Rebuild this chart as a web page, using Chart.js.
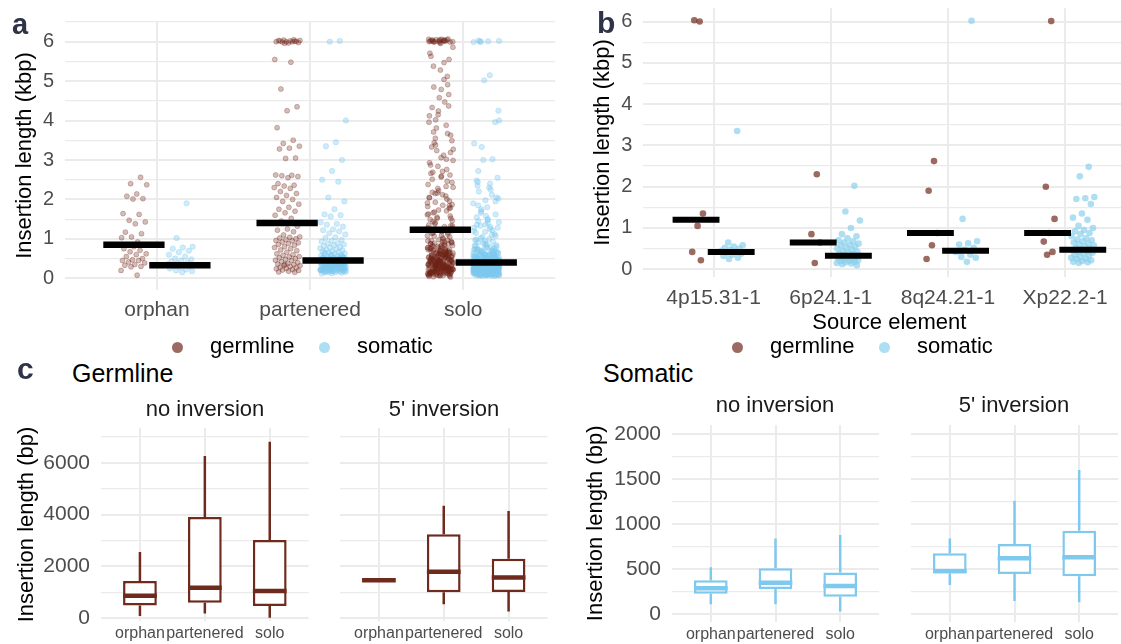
<!DOCTYPE html>
<html><head><meta charset="utf-8">
<script src="https://cdn.jsdelivr.net/npm/chart.js@4.4.1/dist/chart.umd.min.js"></script>
<style>
html,body{margin:0;padding:0;width:1121px;height:644px;overflow:hidden;background:#fff;font-family:"Liberation Sans",Arial,sans-serif;}
#stage{position:absolute;left:0;top:0;width:1121px;height:644px;overflow:hidden;}
.t{position:absolute;white-space:nowrap;line-height:1;z-index:5;}
.lt{font-weight:bold;color:#2f3347;}
.c{transform:translateX(-50%);}
.dot{position:absolute;width:11px;height:11px;border-radius:50%;z-index:5;}
</style></head><body>
<div id="stage">
  <div class="t lt" style="left:12px;top:9.5px;font-size:29px;">a</div>
  <div class="t lt" style="left:597px;top:7.6px;font-size:30px;">b</div>
  <div class="t lt" style="left:17px;top:353.6px;font-size:30px;">c</div>
  <div class="t" style="left:72px;top:361px;font-size:25px;color:#000;">Germline</div>
  <div class="t" style="left:603px;top:361px;font-size:25px;color:#000;">Somatic</div>
  <div class="t c" style="left:205px;top:398.4px;font-size:22px;color:#1a1a1a;">no inversion</div>
  <div class="t c" style="left:444px;top:398.4px;font-size:22px;color:#1a1a1a;">5' inversion</div>
  <div class="t c" style="left:775px;top:394.4px;font-size:22px;color:#1a1a1a;">no inversion</div>
  <div class="t c" style="left:1014px;top:394.4px;font-size:22px;color:#1a1a1a;">5' inversion</div>
  <div class="dot" style="left:172px;top:342px;background:rgba(110,35,22,0.68);"></div>
  <div class="t" style="left:210px;top:335px;font-size:22px;color:#000;">germline</div>
  <div class="dot" style="left:319px;top:342px;background:rgba(135,206,235,0.68);"></div>
  <div class="t" style="left:357px;top:335px;font-size:22px;color:#000;">somatic</div>
  <div class="dot" style="left:732px;top:342px;background:rgba(110,35,22,0.68);"></div>
  <div class="t" style="left:770px;top:335px;font-size:22px;color:#000;">germline</div>
  <div class="dot" style="left:879px;top:342px;background:rgba(135,206,235,0.68);"></div>
  <div class="t" style="left:917px;top:335px;font-size:22px;color:#000;">somatic</div>
</div>
<script>
// ---------- DATA ----------
const catsA = ['orphan', 'partenered', 'solo'];
const orphanGerm = [2.56,2.40,2.37,2.14,2.08,2.02,2.01,1.64,1.62,1.47,1.43,1.38,1.17,1.13,1.05,1.03,0.92,0.85,0.84,0.80,0.75,0.71,0.67,0.62,0.60,0.55,0.50,0.47,0.45,0.45,0.41,0.39,0.35,0.33,0.30,0.29,0.20,0.08];
const orphanSom = [1.90,1.02,0.80,0.78,0.75,0.70,0.66,0.60,0.55,0.50,0.48,0.45,0.42,0.40,0.38,0.36,0.33,0.31,0.30,0.28,0.25,0.22,0.20,0.18,0.15];
const partGerm = [6.05,6.04,6.03,6.02,6.02,6.01,6.00,6.00,6.00,5.99,5.98,5.97,6.03,6.01,5.96,5.55,5.48,4.80,4.35,4.25,3.82,3.50,3.42,3.35,3.30,3.28,3.05,3.04,2.62,2.61,2.60,2.58,2.55,2.40,2.36,2.34,2.30,2.28,2.20,2.15,2.10,2.05,2.00,1.95,1.88,1.80,1.75,1.70,1.66,1.60,1.52,1.45,1.32,1.25,1.22,1.18,1.10,1.05,1.04,1.02,1.00,0.98,0.96,0.95,0.92,0.90,0.88,0.86,0.84,0.80,0.78,0.75,0.72,0.70,0.66,0.62,0.60,0.58,0.55,0.54,0.52,0.50,0.48,0.46,0.45,0.42,0.40,0.38,0.36,0.35,0.33,0.32,0.30,0.28,0.27,0.25,0.24,0.22,0.21,0.20,0.18,0.16,0.15,0.35];
const partSom = [6.02,6.00,4.00,3.45,3.35,3.00,2.72,2.50,2.45,2.05,1.95,1.75,1.62,1.60,1.57,1.42,1.38,1.36,1.31,1.24,1.22,1.19,1.14,1.11,1.04,1.02,0.97,0.95,0.93,0.89,0.88,0.86,0.84,0.82,0.79,0.78,0.76,0.74,0.72,0.71,0.69,0.68,0.66,0.65,0.63,0.62,0.61,0.59,0.58,0.57,0.56,0.55,0.54,0.53,0.52,0.51,0.50,0.49,0.49,0.48,0.47,0.46,0.46,0.45,0.44,0.44,0.43,0.42,0.42,0.41,0.40,0.40,0.39,0.38,0.38,0.37,0.37,0.36,0.35,0.35,0.34,0.34,0.33,0.33,0.32,0.31,0.31,0.30,0.30,0.29,0.29,0.28,0.28,0.27,0.26,0.26,0.25,0.25,0.24,0.24,0.23,0.22,0.22,0.21,0.21,0.20,0.20,0.19,0.18,0.18,0.17,0.17,0.16,0.15,0.15,0.14,0.13,0.12,0.22,0.27,0.33,0.39,0.41,0.36,
  0.32,0.21,0.45,0.27,0.38,0.18,0.52,0.30,0.24,0.41,0.35,0.16,0.28,0.60,0.22,0.36,0.43,0.19,0.31,0.25,0.50,0.34,0.20,0.39,0.29,0.56,0.23,0.33,0.47,0.17,0.26,0.37,0.65,0.30,0.42,0.21,0.35,0.28,0.54,0.24];
const soloGerm = [6.04,0.42,2.31,0.18,6.01,1.77,0.63,4.12,0.27,3.38,0.91,6.06,0.55,1.12,2.84,0.09,5.47,0.36,1.58,0.71,6.02,3.02,0.24,0.83,2.12,0.47,4.66,0.15,1.35,0.58,6.00,0.31,2.57,0.96,5.12,0.21,1.91,0.66,3.71,0.38,6.05,0.12,1.24,0.52,2.43,0.79,4.33,0.27,0.44,1.63,6.03,0.19,3.19,0.61,0.88,2.76,0.33,5.86,0.07,1.44,0.49,6.01,2.05,0.74,3.55,0.23,1.09,0.57,4.91,0.35,1.82,0.14,5.99,2.62,0.68,0.41,3.88,0.29,1.27,0.93,6.04,0.16,2.22,0.53,4.47,0.39,1.52,0.81,5.63,0.26,0.62,3.27,6.02,0.11,1.96,0.46,2.93,0.72,4.02,0.34,1.18,0.59,6.07,0.21,2.38,0.86,3.44,0.13,5.28,0.48,1.71,0.64,6.00,0.37,2.69,0.25,0.98,3.96,0.17,1.41,0.54,4.79,6.03,0.29,2.16,0.77,3.12,0.43,1.05,0.08,5.71,0.56,6.05,1.87,0.32,2.51,0.69,4.24,0.22,1.31,0.89,3.63,5.96,0.15,2.01,0.51,2.99,0.44,1.66,0.73,4.58,0.28,6.01,0.36,1.21,0.61,3.33,0.19,2.28,0.95,5.04,0.47,5.99,0.11,1.49,0.67,3.81,0.24,2.71,0.84,4.37,0.39,6.06,0.52,1.38,0.14,3.06,0.76,2.46,0.31,1.61,0.58,5.38,0.06,6.02,0.42,2.09,0.65,3.49,0.27,1.14,0.87,4.15,0.34,6.04,0.18,1.79,0.49,2.87,0.62,3.24,0.23,1.02,0.71,5.55,0.38,6.00,0.12,1.93,0.55,2.59,0.45,3.67,0.81,1.28,0.26,4.85,0.66,5.97,0.33,2.33,0.09,1.46,0.59,2.18,0.48,1.73,0.35,0.92,0.17,1.33,0.74,2.66,0.53,1.55,0.41,0.99,0.22,1.84,0.63,2.04,0.29,1.25,0.44,0.85,0.13,1.16,0.57,0.78,0.37,1.07,0.25,0.69,0.46,
  0.34,0.12,0.58,0.27,0.81,0.19,0.45,0.05,0.66,0.31,0.94,0.22,0.51,0.14,0.38,1.08,0.26,0.72,0.09,0.43,0.17,0.61,0.33,1.21,0.24,0.49,0.11,0.77,0.36,0.20,0.55,0.03,0.41,0.87,0.28,0.15,0.64,0.35,1.15,0.21,0.47,0.08,0.70,0.30,0.18,0.53,0.39,0.97,0.25,0.13,0.60,0.32,0.44,0.06,0.75,0.23,0.50,1.33,0.29,0.16,0.57,0.37,0.10,0.84,0.27,0.46,0.19,0.68,0.33,1.52,0.22,0.40,0.04,0.62,0.30,0.14,0.52,0.35,0.90,0.26,0.17,0.48,0.07,0.73,0.31,1.68,0.20,0.42,0.12,0.59,0.28,0.38,1.85,0.24,0.65,0.15,0.54,0.32,2.15,0.45];
const soloSom = [0.21,0.35,6.02,0.12,0.48,0.27,1.36,0.09,0.31,0.66,0.18,0.39,2.44,0.24,0.15,0.52,0.33,0.07,0.28,0.81,0.19,0.37,1.05,0.22,0.11,0.44,0.26,0.14,0.58,0.34,6.00,0.17,0.29,0.73,0.20,0.36,0.13,0.47,0.25,1.62,0.08,0.32,0.55,0.19,0.38,0.16,0.91,0.23,0.30,0.12,0.42,0.27,2.05,0.10,0.35,0.63,0.18,0.24,0.46,0.15,0.33,1.18,0.21,0.06,0.39,0.28,0.77,0.14,0.31,0.53,0.20,5.15,0.26,0.11,0.41,0.35,0.17,0.68,0.23,0.29,1.45,0.13,0.37,0.50,0.22,0.09,0.32,0.86,0.25,0.18,0.43,0.30,2.30,0.16,0.38,0.60,0.12,0.27,0.34,1.28,0.21,0.07,0.45,0.19,0.72,0.33,0.24,0.14,0.40,0.28,3.02,0.17,0.36,0.57,0.10,0.26,0.95,0.22,0.31,0.15,0.49,1.80,0.20,0.35,0.12,0.64,0.29,0.23,0.08,0.42,0.18,1.10,0.37,0.27,6.01,0.13,0.54,0.32,0.21,0.79,0.16,0.39,0.25,1.55,0.11,0.30,0.47,0.19,0.34,0.06,0.88,0.24,0.41,0.14,2.55,0.28,0.20,0.61,0.36,0.17,1.25,0.09,0.33,0.51,0.22,0.26,0.44,4.25,0.15,0.38,0.70,0.12,0.30,0.20,1.02,0.35,0.27,0.18,0.56,0.23,1.90,0.10,0.40,0.32,0.14,0.83,0.25,0.37,0.19,1.40,0.29,0.66,0.21,3.42,0.13,0.34,0.48,0.16,0.98,0.31,0.26,0.08,0.43,2.20,0.22,0.59,0.18,0.36,1.70,0.11,0.28,0.75,0.24,0.40,5.99,0.15,0.33,0.52,0.20,1.15,0.30,0.17,0.45,0.27,2.72,0.12,0.62,0.38,0.23,1.33,0.09,0.35,0.19,0.93,0.29,4.00,0.14,0.42,0.25,1.98,0.21,0.69,0.32,0.16,1.50,0.37,0.13,0.55,0.26,2.40,0.18,0.84,0.31,0.22,1.22,0.10,0.46,0.28,6.03,0.15,0.39,0.74,0.20,1.66,0.34,0.24,0.50,0.12,3.00,0.27,0.58,0.17,1.08,0.36,0.21,2.12,0.30,0.65,0.19,1.85,0.44,5.02,0.25,1.30,0.33,0.80,0.14,2.48,0.41,0.23,1.42,0.53,0.16,3.96,0.29,0.97,0.20,1.75,0.38,0.11,2.35,0.60,0.26,1.20,0.32,6.00,0.18,1.58,0.43,0.71,0.22,2.02,0.35,0.13,1.12,0.47,0.28,2.25,0.24,0.67,0.37,1.36,0.15,0.89,0.31,1.00,0.20,1.95,0.40,0.54,0.27,3.33,0.17,1.48,0.34,0.76,0.23,1.28,0.12,0.62,0.30,
  0.31,0.18,0.44,0.26,0.12,0.37,0.21,0.55,0.29,0.15,0.41,0.23,0.33,0.09,0.48,0.19,0.27,0.36,0.13,0.62,0.24,0.31,0.17,0.45,0.22,0.38,0.11,0.29,0.52,0.20,0.34,0.16,0.42,0.25,0.07,0.35,0.28,0.58,0.14,0.39,0.23,0.31,0.18,0.47,0.26,0.12,0.36,0.21,0.68,0.30,0.16,0.43,0.24,0.10,0.33,0.27,0.51,0.19,0.37,0.22,0.14,0.40,0.29,0.75,0.17,0.32,0.25,0.46,0.11,0.35,0.20,0.28,0.57,0.15,0.38,0.23,0.08,0.42,0.30,0.18,0.64,0.26,0.34,0.13,0.49,0.21,0.37,0.27,0.16,0.44,0.32,0.09,0.24,0.53,0.19,0.36,0.28,0.12,0.41,0.22,0.70,0.31,0.15,0.39,0.25,0.47,0.18,0.33,0.10,0.29,0.60,0.21,0.36,0.14,0.43,0.26,0.17,0.35,0.23,0.82,0.30,0.12,0.40,0.27,0.54,0.19,0.34,0.08,0.45,0.24,0.16,0.38,0.29,0.66,0.20,0.32,0.13,0.48,0.26,0.11,0.37,0.22,0.59,0.30,0.17,0.42,0.25,0.06,0.35,0.28,0.72,0.15,0.39,0.21,0.50,0.33,0.18,0.27,0.44,0.13,0.36,0.23,0.61,0.31,0.16,0.40,0.26,0.09,0.34,0.20,0.46,0.29,0.14,0.38];
const medGermA = [0.85, 1.40, 1.23];
const medSomA = [0.33, 0.45, 0.40];
const yMajorA = [0, 1, 2, 3, 4, 5, 6];
const yMinorA = [0.5, 1.5, 2.5, 3.5, 4.5, 5.5, 6.5];

const elemsB = ['4p15.31-1', '6p24.1-1', '8q24.21-1', 'Xp22.2-1'];
const germB_4p = [6.00, 6.03, 1.35, 1.05, 0.42, 0.22];
const germB_6p = [2.30, 0.85, 0.65, 0.15];
const germB_8q = [2.62, 1.90, 0.88, 0.58, 0.25];
const germB_Xp = [6.01, 2.00, 1.22, 0.88, 0.67, 0.42, 0.35];
const somB_4p = [3.35, 0.65, 0.58, 0.55, 0.52, 0.50, 0.48, 0.45, 0.42, 0.40, 0.38, 0.35, 0.32, 0.28, 0.25];
const somB_6p = [2.02, 1.40, 1.18, 1.00, 0.85, 0.80, 0.75, 0.70, 0.68, 0.65, 0.62, 0.60, 0.58, 0.55, 0.52, 0.50, 0.48, 0.45, 0.42, 0.40, 0.38, 0.36, 0.35, 0.33, 0.32, 0.30, 0.30, 0.28, 0.27, 0.25, 0.24, 0.22, 0.20, 0.20, 0.18, 0.17, 0.15, 0.14, 0.12, 0.10];
const somB_8q = [6.02, 1.22, 0.68, 0.63, 0.60, 0.52, 0.48, 0.42, 0.35, 0.30, 0.28, 0.18];
const somB_Xp = [2.48, 2.25, 1.75, 1.72, 1.70, 1.58, 1.35, 1.25, 1.20, 1.05, 1.00, 0.95, 0.92, 0.88, 0.85, 0.80, 0.75, 0.72, 0.70, 0.68, 0.65, 0.62, 0.60, 0.58, 0.55, 0.52, 0.50, 0.48, 0.46, 0.44, 0.42, 0.40, 0.38, 0.35, 0.33, 0.30, 0.28, 0.26, 0.25, 0.22, 0.20, 0.18, 0.17, 0.15];
const medGermB = [1.20, 0.65, 0.88, 0.88];
const medSomB = [0.42, 0.33, 0.45, 0.47];
const yMajorB = [0, 1, 2, 3, 4, 5, 6];
const yMinorB = [0.5, 1.5, 2.5, 3.5, 4.5, 5.5];

const catsC = ['orphan', 'partenered', 'solo'];
// [lower whisker, Q1, median, Q3, upper whisker] in bp
const germNoInv = [[90, 490, 870, 1440, 2560], [190, 600, 1180, 3910, 6260], [25, 470, 1050, 3020, 6810]];
const germInv5 = [[1450, 1452, 1465, 1478, 1480], [540, 1000, 1800, 3240, 4340], [260, 1010, 1570, 2300, 4140]];
const somNoInv = [[111, 229, 288, 377, 521], [111, 280, 351, 510, 842], [30, 195, 314, 465, 879]];
const somInv5 = [[325, 454, 480, 676, 842], [147, 447, 621, 779, 1260], [133, 421, 632, 927, 1600]];
const yMajorGerm = [0, 2000, 4000, 6000];
const yMinorGerm = [1000, 3000, 5000, 7000];
const yMajorSom = [0, 500, 1000, 1500, 2000];
const yMinorSom = [250, 750, 1250, 1750];

// ---------- STYLE ----------
const BOX_GERM = '#6e2a1d';
const BOX_SOM = '#80c9ee';

Chart.defaults.font.family = '"Liberation Sans", Arial, sans-serif';
Chart.defaults.color = '#4d4d4d';
Chart.defaults.animation = false;
Chart.defaults.events = [];
Chart.defaults.plugins.legend.display = false;
Chart.defaults.plugins.tooltip.enabled = false;

function makeCanvas(cx, cy, cw, ch) {
  const d = document.createElement('div');
  d.style.cssText = 'position:absolute;left:' + cx + 'px;top:' + cy + 'px;width:' + cw + 'px;height:' + ch + 'px;';
  const c = document.createElement('canvas');
  c.width = cw; c.height = ch; c.style.width = cw + 'px'; c.style.height = ch + 'px';
  d.appendChild(c);
  document.getElementById('stage').appendChild(d);
  return c;
}

function yAxis(o) {
  const all = o.major.concat(o.minor).sort((a, b) => a - b);
  return {
    type: 'linear', position: 'left', min: o.min, max: o.max,
    afterBuildTicks: s => { s.ticks = all.map(v => ({ value: v })); },
    afterFit: s => { s.width = o.width; },
    ticks: { display: o.show, autoSkip: false, padding: 11, color: '#4d4d4d', font: { size: o.fs || 20 },
      callback: v => (o.major.includes(v) ? String(v) : '') },
    grid: { color: '#ebebeb', drawTicks: false, lineWidth: ctx => (o.major.includes(ctx.tick.value) ? 2 : 1.2) },
    border: { display: false },
    title: { display: !!o.title, text: o.title || '', color: '#000', font: { size: 22 }, padding: { top: o.titlePad || 0, bottom: 0 } }
  };
}

function xAxis(o) {
  return {
    type: 'linear', position: 'bottom', min: o.min, max: o.max, offset: false,
    afterBuildTicks: s => { s.ticks = o.cats.map((c, i) => ({ value: i + 1 })); },
    afterFit: s => { s.height = o.height; },
    ticks: { autoSkip: false, maxRotation: 0, minRotation: 0, padding: o.pad, color: '#4d4d4d', font: { size: o.fs || 21 },
      callback: v => o.cats[Math.round(v) - 1] },
    grid: { color: '#ebebeb', lineWidth: 2, drawTicks: false, offset: false },
    border: { display: false },
    title: { display: !!o.title, text: o.title || '', color: '#000', font: { size: 22 }, padding: { top: 0, bottom: o.titlePad || 0 } }
  };
}

function jit(i, w) {
  const f = ((i + 1) * 0.6180339887 + 0.137) % 1;
  return (f * 2 - 1) * w;
}
function pts(groups, off, w) {
  const out = [];
  groups.forEach((g, ci) => g.forEach((v, i) => out.push({ x: ci + 1 + off + jit(i, w), y: v })));
  return out;
}
function segs(meds, off, half) {
  const out = [];
  meds.forEach((m, ci) => {
    out.push({ x: ci + 1 + off - half, y: m }, { x: ci + 1 + off + half, y: m }, { x: ci + 1 + off + half, y: null });
  });
  return out;
}
function layoutPad(cx, cy, cw, plot) {
  return { left: 0, top: plot.top - cy, right: cx + cw - plot.right, bottom: 0 };
}

// ---------- PANEL a ----------
(function () {
  const cx = 0, cy = -10, cw = 560, ch = 340;
  const plot = { left: 65, right: 556, top: 21, bottom: 290 };
  new Chart(makeCanvas(cx, cy, cw, ch), {
    type: 'scatter',
    data: { datasets: [
      { type: 'line', data: segs(medGermA, -0.15, 0.2), borderColor: '#000', borderWidth: 6.5, borderCapStyle: 'butt', pointRadius: 0, spanGaps: false, order: 0 },
      { type: 'line', data: segs(medSomA, 0.15, 0.2), borderColor: '#000', borderWidth: 6.5, borderCapStyle: 'butt', pointRadius: 0, spanGaps: false, order: 0 },
      { data: pts([orphanGerm, partGerm, soloGerm], -0.15, 0.085), pointRadius: 2.5, backgroundColor: 'rgba(110,35,22,0.3)', borderColor: 'rgba(110,35,22,0.34)', borderWidth: 0.8, order: 1 },
      { data: pts([orphanSom, partSom, soloSom], 0.15, 0.085), pointRadius: 2.7, backgroundColor: 'rgba(125,200,238,0.36)', borderColor: 'rgba(125,200,238,0.4)', borderWidth: 0.8, order: 1 }
    ] },
    options: {
      responsive: false, devicePixelRatio: 1,
      layout: { padding: layoutPad(cx, cy, cw, plot) },
      scales: {
        x: xAxis({ cats: catsA, min: 0.4, max: 3.6, height: cy + ch - plot.bottom, pad: 8, fs: 21 }),
        y: yAxis({ min: -0.297, max: 6.525, major: yMajorA, minor: yMinorA, show: true, width: plot.left - cx, title: 'Insertion length (kbp)', titlePad: 12 })
      }
    }
  });
})();

// ---------- PANEL b ----------
(function () {
  const cx = 560, cy = -25, cw = 590, ch = 365;
  const plot = { left: 643.3, right: 1135.5, top: 8.3, bottom: 276.7 };
  new Chart(makeCanvas(cx, cy, cw, ch), {
    type: 'scatter',
    data: { datasets: [
      { type: 'line', data: segs(medGermB, -0.15, 0.2), borderColor: '#000', borderWidth: 6, borderCapStyle: 'butt', pointRadius: 0, spanGaps: false, order: 0 },
      { type: 'line', data: segs(medSomB, 0.15, 0.2), borderColor: '#000', borderWidth: 6, borderCapStyle: 'butt', pointRadius: 0, spanGaps: false, order: 0 },
      { data: pts([germB_4p, germB_6p, germB_8q, germB_Xp], -0.15, 0.06), pointRadius: 3.3, backgroundColor: 'rgba(110,35,22,0.68)', borderWidth: 0, order: 1 },
      { data: pts([somB_4p, somB_6p, somB_8q, somB_Xp], 0.15, 0.1), pointRadius: 3.3, backgroundColor: 'rgba(135,206,235,0.68)', borderWidth: 0, order: 1 }
    ] },
    options: {
      responsive: false, devicePixelRatio: 1,
      layout: { padding: layoutPad(cx, cy, cw, plot) },
      scales: {
        x: xAxis({ cats: elemsB, min: 0.4, max: 4.6, height: cy + ch - plot.bottom, pad: 9, fs: 21, title: 'Source element', titlePad: 4 }),
        y: yAxis({ min: -0.18, max: 6.32, major: yMajorB, minor: yMinorB, show: true, width: plot.left - cx, title: 'Insertion length (kbp)', titlePad: 30 })
      }
    }
  });
})();

// ---------- PANEL c (box plots) ----------
function boxChart(cx, cy, cw, ch, plot, boxes, color, yo) {
  const boxData = boxes.map((b, i) => ({ x: i + 1, y: [b[1], b[3]] }));
  const whisk = [];
  boxes.forEach((b, i) => {
    whisk.push({ x: i + 1, y: b[0] }, { x: i + 1, y: b[1] }, { x: i + 1, y: null }, { x: i + 1, y: b[3] }, { x: i + 1, y: b[4] }, { x: i + 1, y: null });
  });
  const meds = boxes.map(b => b[2]);
  yo.width = plot.left - cx;
  new Chart(makeCanvas(cx, cy, cw, ch), {
    type: 'bar',
    data: { datasets: [
      { type: 'line', data: segs(meds, 0, 0.26), borderColor: color, borderWidth: 4.5, borderCapStyle: 'butt', pointRadius: 0, spanGaps: false, order: 0 },
      { type: 'bar', data: boxData, backgroundColor: '#fff', borderColor: color, borderWidth: 2.5, borderSkipped: false, barPercentage: 0.52, categoryPercentage: 1, order: 1 },
      { type: 'line', data: whisk, borderColor: color, borderWidth: 2.5, borderCapStyle: 'butt', pointRadius: 0, spanGaps: false, order: 2 }
    ] },
    options: {
      responsive: false, devicePixelRatio: 1,
      layout: { padding: layoutPad(cx, cy, cw, plot) },
      scales: {
        x: xAxis({ cats: catsC, min: 0.4, max: 3.6, height: cy + ch - plot.bottom, pad: 3, fs: 16 }),
        y: yAxis(yo)
      }
    }
  });
}

boxChart(0, 395, 318, 265, { left: 101, right: 308.7, top: 428, bottom: 621 }, germNoInv, BOX_GERM,
  { min: -104, max: 7339, major: yMajorGerm, minor: yMinorGerm, show: true, fs: 21, title: 'Insertion length (bp)', titlePad: 14 });
boxChart(325, 395, 230, 265, { left: 340, right: 547.5, top: 428, bottom: 621 }, germInv5, BOX_GERM,
  { min: -104, max: 7339, major: yMajorGerm, minor: yMinorGerm, show: false });
boxChart(560, 392, 325, 268, { left: 672, right: 879, top: 425, bottom: 621.7 }, somNoInv, BOX_SOM,
  { min: -82, max: 2100, major: yMajorSom, minor: yMinorSom, show: true, fs: 21, title: 'Insertion length (bp)', titlePad: 23 });
boxChart(895, 392, 235, 268, { left: 911, right: 1118, top: 425, bottom: 621.7 }, somInv5, BOX_SOM,
  { min: -82, max: 2100, major: yMajorSom, minor: yMinorSom, show: false });
</script>
</body></html>
